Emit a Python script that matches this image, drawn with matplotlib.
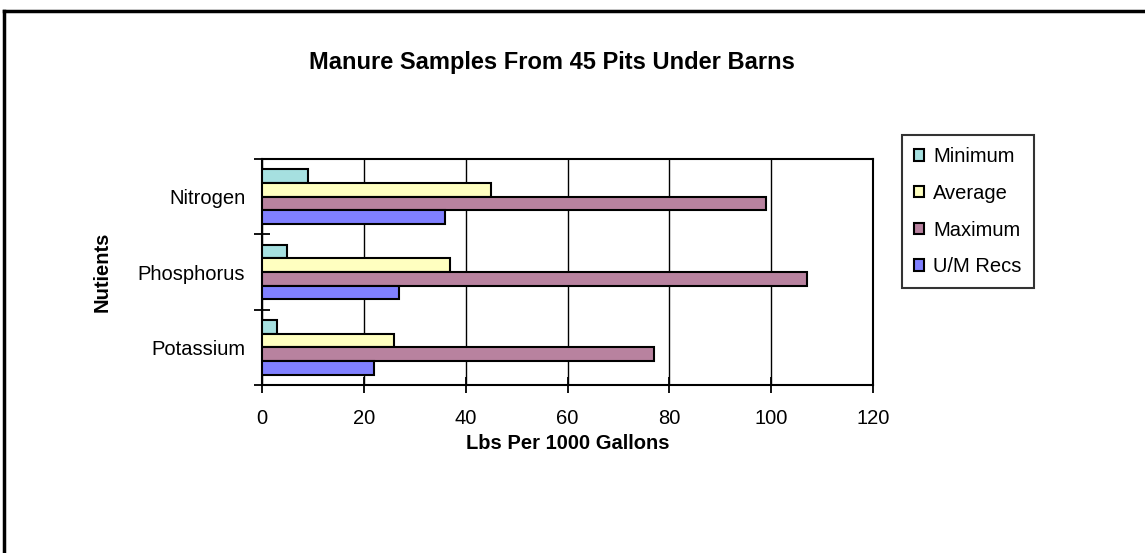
import numpy as np
import matplotlib.pyplot as plt
from matplotlib.lines import Line2D

plt.rcParams['font.family'] = ['Liberation Sans', 'DejaVu Sans']

nutrients = ['Potassium', 'Phosphorus', 'Nitrogen']
series_names = ['Minimum', 'Average', 'Maximum', 'U/M Recs']
minimum = [3, 5, 9]
average = [26, 37, 45]
maximum = [77, 107, 99]
um_recs = [22, 27, 36]
x_ticks = [0, 20, 40, 60, 80, 100, 120]

colors = ['#A6E0E0', '#FFFFC0', '#B8829F', '#8080FF']

fig = plt.figure(figsize=(11.45, 5.53), dpi=100)
ax = fig.add_axes([262 / 1145, 1 - 385 / 553, (873 - 262) / 1145, (385 - 159) / 553])

# excel style: bar width with 150% gap
h = 1 / 5.5
y = np.arange(len(nutrients))
for j, (vals, name) in enumerate(zip([minimum, average, maximum, um_recs], series_names)):
    ax.barh(y + (1.5 - j) * h, vals, height=h, color=colors[j],
            edgecolor='black', linewidth=1.5, label=name, zorder=3)

ax.set_xlim(0, 120)
ax.set_ylim(-0.5, 2.5)
ax.set_xticks(x_ticks)
ax.set_xticklabels([str(t) for t in x_ticks], fontsize=14.5)
ax.set_yticks([-0.5, 0.5, 1.5, 2.5])
ax.set_yticklabels([])
ax.set_yticks(y, minor=True)
ax.set_yticklabels(nutrients, minor=True, fontsize=14.5)
ax.tick_params(axis='y', which='minor', length=0, pad=12)
ax.tick_params(axis='both', which='major', direction='inout', length=11, width=1.3)
ax.tick_params(axis='x', pad=12)
ax.grid(axis='x', color='black', linewidth=1, zorder=0)
for s in ax.spines.values():
    s.set_linewidth(1.5)

ax.set_xlabel('Lbs Per 1000 Gallons', fontsize=14.5, fontweight='bold', labelpad=4)
ax.set_ylabel('Nutients', fontsize=14.5, fontweight='bold', labelpad=19)
fig.text(552 / 1145, 1 - 62 / 553, 'Manure Samples From 45 Pits Under Barns',
         fontsize=17, fontweight='bold', ha='center', va='center')

leg = ax.legend(loc='upper left', bbox_to_anchor=(902 / 1145, 1 - 135 / 553),
                bbox_transform=fig.transFigure, fontsize=14.5, frameon=True,
                fancybox=False, edgecolor='black', handlelength=0.5, handleheight=0.5,
                handletextpad=0.45, labelspacing=0.88, borderpad=0.6, borderaxespad=0)
leg.get_frame().set_linewidth(1.5)

# chart frame, top and left only
fig.add_artist(Line2D([4 / 1145, 1], [1 - 11 / 553, 1 - 11 / 553],
                      transform=fig.transFigure, color='black', linewidth=2.5))
fig.add_artist(Line2D([4 / 1145, 4 / 1145], [0, 1 - 11 / 553],
                      transform=fig.transFigure, color='black', linewidth=2.5))

fig.savefig('out.png', dpi=100)
